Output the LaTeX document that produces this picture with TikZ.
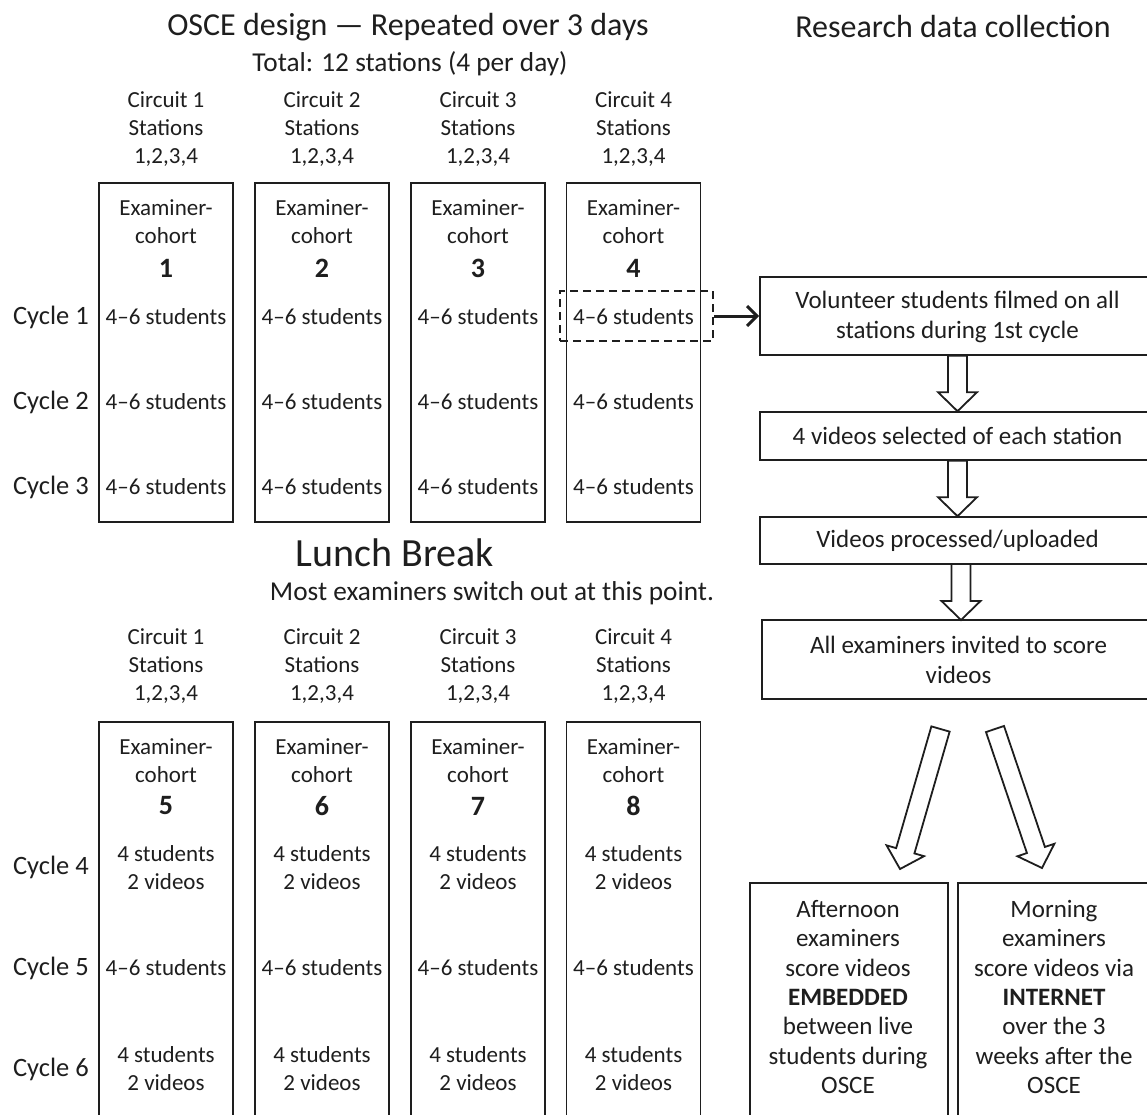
\documentclass[tikz,border=0pt]{standalone}
\usepackage{fontspec}
\setmainfont{Carlito}
\usetikzlibrary{calc,arrows.meta}
\definecolor{ink}{HTML}{1E1E1E}
\newcommand\hArrow[2]{%
  \coordinate (hb) at ($(#2)!19pt!(#1)$);
  \draw[hollow] ($(#1)!9.5pt!90:(#2)$) -- ($(hb)!9.5pt!-90:(#1)$) -- ($(hb)!19.5pt!-90:(#1)$) -- (#2)
    -- ($(hb)!19.5pt!90:(#1)$) -- ($(hb)!9.5pt!90:(#1)$) -- ($(#1)!9.5pt!-90:(#2)$) -- cycle;}
\begin{document}
\begin{tikzpicture}[x=1pt,y=-1pt,
  every node/.style={text=ink},
  txt/.style={align=center, inner sep=0pt, font=\fontsize{23}{28}\selectfont},
  big/.style={align=center, inner sep=0pt, font=\fontsize{25}{30}\selectfont},
  cyc/.style={anchor=east, inner sep=0pt, font=\fontsize{26.5}{30}\selectfont},
  num/.style={inner sep=0pt, font=\fontsize{28}{32}\selectfont\bfseries},
  colbox/.style={draw=ink, line width=1.6pt, minimum width=134pt, inner sep=0pt},
  rbox/.style={draw=ink, line width=1.6pt, inner sep=0pt},
  hollow/.style={draw=ink, line width=1.8pt, fill=white, line join=miter},
  link/.style={draw=ink, line width=3pt, -{Straight Barb[length=10pt,width=20pt]}},
]
\useasboundingbox (0,0) rectangle (1147,1114);
\clip (0,0) rectangle (1147,1114);
\fill[white] (0,0) rectangle (1147,1114);

% titles
\node[inner sep=0pt, font=\fontsize{32}{36}\selectfont] (title) at (408,27) {OSCE design — Repeated over 3 days};
\node[inner sep=0pt, font=\fontsize{32}{36}\selectfont] (rtitle) at (953,27) {Research data collection};
\node[inner sep=0pt, font=\fontsize{27.3}{32}\selectfont] (total) at (410,64) {Total: 12 stations (4 per day)};
\node[inner sep=0pt, font=\fontsize{40}{44}\selectfont] (lunch) at (395,553) {Lunch Break};
\node[inner sep=0pt, font=\fontsize{27.3}{32}\selectfont] (most) at (492,593) {Most examiners switch out at this point.};

% columns
\foreach \x/\i/\j in {166/1/5, 322/2/6, 478/3/7, 633.5/4/8} {
  % morning
  \node[txt] (ha\i) at (\x,129) {Circuit \i\\Stations\\1,2,3,4};
  \node[colbox, minimum height=339pt] (ta\i) at (\x,352.5) {};
  \node[txt] (ea\i) at (\x,222) {Examiner-\\cohort};
  \node[num] (na\i) at (\x,268) {\i};
  \node[txt] (sa\i1) at (\x,317) {4–6 students};
  \node[txt] (sa\i2) at (\x,402) {4–6 students};
  \node[txt] (sa\i3) at (\x,487) {4–6 students};
  % afternoon
  \node[txt] (hb\i) at (\x,666) {Circuit \i\\Stations\\1,2,3,4};
  \node[colbox, minimum height=408pt] (tb\i) at (\x,926) {};
  \node[txt] (eb\i) at (\x,760.5) {Examiner-\\cohort};
  \node[num] (nb\i) at (\x,806) {\j};
  \node[txt] (sb\i1) at (\x,868) {4 students\\2 videos};
  \node[txt] (sb\i2) at (\x,968) {4–6 students};
  \node[txt] (sb\i3) at (\x,1069) {4 students\\2 videos};
}

% cycle labels
\node[cyc] (cy1) at (89,317) {Cycle 1};
\node[cyc] (cy2) at (89,402) {Cycle 2};
\node[cyc] (cy3) at (89,487) {Cycle 3};
\node[cyc] (cy4) at (89,867) {Cycle 4};
\node[cyc] (cy5) at (89,968) {Cycle 5};
\node[cyc] (cy6) at (89,1069) {Cycle 6};

% dashed highlight
\node[draw=ink, line width=2.6pt, dash pattern=on 8pt off 5pt, minimum width=153pt, minimum height=50pt, inner sep=0pt] (dsh) at (636.5,316) {};

% research boxes
\node[rbox, minimum width=395pt, minimum height=78pt] (A) at (957.5,316) {};
\node[big] at (957.5,317) {Volunteer students filmed on all\\stations during 1st cycle};
\node[rbox, minimum width=395pt, minimum height=48pt] (B) at (957.5,436) {};
\node[big] at (957.5,436) {4 videos selected of each station};
\node[rbox, minimum width=395pt, minimum height=47pt] (C) at (957.5,540.5) {};
\node[big] at (957.5,541) {Videos processed/uploaded};
\node[rbox, minimum width=393pt, minimum height=79pt] (D) at (958.5,659.5) {};
\node[big] at (958.5,660) {All examiners invited to score\\videos};

\node[rbox, minimum width=198pt, minimum height=247pt] (L) at (849,1006.5) {};
\node[big, font=\fontsize{25}{29.3}\selectfont] at (848,997) {Afternoon\\examiners\\score videos\\\textbf{EMBEDDED}\\between live\\students during\\OSCE};
\node[rbox, minimum width=202pt, minimum height=247pt] (R) at (1059,1006.5) {};
\node[big, font=\fontsize{25}{29.3}\selectfont] at (1054,997) {Morning\\examiners\\score videos via\\\textbf{INTERNET}\\over the 3\\weeks after the\\OSCE};

% connectors
\draw[link] (dsh.east) -- (A.west);

\hArrow{A.south}{B.north}
\hArrow{B.south}{C.north}
\coordinate (c3s) at (961,564);
\coordinate (d3n) at (961,620);
\hArrow{c3s}{d3n}

\coordinate (lt) at (940.5,729);
\coordinate (lh) at (900,869);
\coordinate (rt) at (995,729);
\coordinate (rh) at (1042,868);
\hArrow{lt}{lh}
\hArrow{rt}{rh}
\end{tikzpicture}
\end{document}
